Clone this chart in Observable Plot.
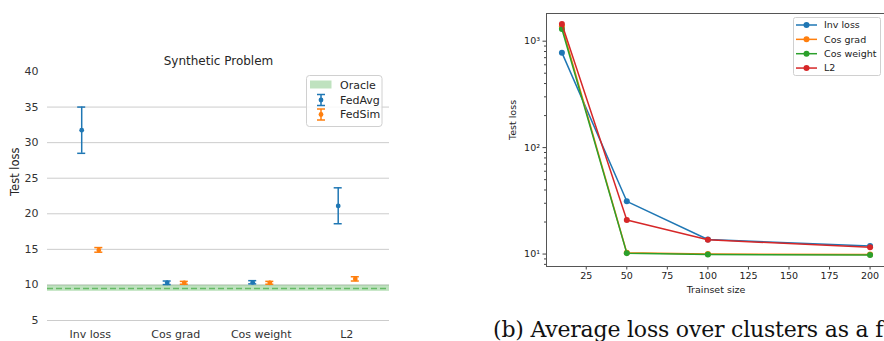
<!DOCTYPE html>
<html><head><meta charset="utf-8">
<script src="https://cdn.jsdelivr.net/npm/d3@7"></script>
<script src="https://cdn.jsdelivr.net/npm/@observablehq/plot@0.6"></script>
<style>
html,body{margin:0;padding:0;background:#fff;}
body{width:884px;height:341px;overflow:hidden;position:relative;font-family:"DejaVu Sans",sans-serif;}
#left{position:absolute;left:0;top:0;width:400px;}
#right{position:absolute;left:470px;top:0;width:420px;}
#left svg,#right svg{max-width:none !important;}
#overlay{position:absolute;left:0;top:0;pointer-events:none;}
</style></head>
<body>
<div id="left"></div>
<div id="right"></div>
<svg id="overlay" width="884" height="341"></svg>
<script>
// ---------- Left chart data ----------
const categories = ["Inv loss", "Cos grad", "Cos weight", "L2"];
const fedAvgMean = [31.75, 10.3, 10.35, 21.1];
const fedAvgLow  = [28.5, 10.05, 10.15, 18.6];
const fedAvgHigh = [35.0, 10.55, 10.6, 23.65];
const fedSimMean = [14.9, 10.3, 10.3, 10.85];
const fedSimLow  = [14.6, 10.1, 10.1, 10.55];
const fedSimHigh = [15.25, 10.5, 10.5, 11.15];
const oracleMean = 9.5, oracleLow = 9.1, oracleHigh = 9.95;
const leftYTicks = [5, 10, 15, 20, 25, 30, 35, 40];
const leftGrid = [5, 10, 15, 20, 25, 30, 35];

// ---------- Right chart data ----------
const trainsetSizes = [10, 50, 100, 200];
const seriesNames = ["Inv loss", "Cos grad", "Cos weight", "L2"];
const invLoss   = [780, 31.3, 13.7, 11.9];
const cosGrad   = [1380, 10.3, 10.0, 9.9];
const cosWeight = [1300, 10.2, 9.9, 9.8];
const l2        = [1450, 20.9, 13.6, 11.6];
const rightXTicks = [25, 50, 75, 100, 125, 150, 175, 200];
const rightYTicks = [10, 100, 1000];
const rightMinor = [8, 9, 20, 30, 40, 50, 60, 70, 80, 90, 200, 300, 400, 500, 600, 700, 800, 900];

const blue = "#1f77b4", orange = "#ff7f0e", green = "#2ca02c", red = "#d62728";

// ---------- Left chart ----------
const off = 0.1, capHalf = 0.047;
const xDomainL = [-0.5, 3.5];
const fedAvg = categories.map((c, i) => ({i, x: i - off, mean: fedAvgMean[i], lo: fedAvgLow[i], hi: fedAvgHigh[i]}));
const fedSim = categories.map((c, i) => ({i, x: i + off, mean: fedSimMean[i], lo: fedSimLow[i], hi: fedSimHigh[i]}));
function errorbars(data, color) {
  return [
    Plot.ruleX(data, {x: "x", y1: "lo", y2: "hi", stroke: color, strokeWidth: 1.5}),
    Plot.ruleY(data, {y: "hi", x1: d => d.x - capHalf, x2: d => d.x + capHalf, stroke: color, strokeWidth: 1.5}),
    Plot.ruleY(data, {y: "lo", x1: d => d.x - capHalf, x2: d => d.x + capHalf, stroke: color, strokeWidth: 1.5}),
    Plot.dot(data, {x: "x", y: "mean", r: 2.4, fill: color, stroke: null})
  ];
}
const left = Plot.plot({
  width: 400, height: 360,
  marginLeft: 47, marginRight: 11, marginTop: 71, marginBottom: 40,
  style: {fontFamily: "DejaVu Sans", fontSize: "11px", color: "#333", background: "transparent"},
  x: {domain: xDomainL, ticks: categories.map((c, i) => i), tickFormat: i => categories[i], tickSize: 0, tickPadding: 10, label: null},
  y: {domain: [5, 40], ticks: leftYTicks, tickSize: 0, tickPadding: 9, label: null},
  marks: [
    Plot.ruleY(leftGrid, {stroke: "#cccccc", strokeWidth: 1}),
    Plot.rect([{lo: oracleLow, hi: oracleHigh}], {x1: () => xDomainL[0], x2: () => xDomainL[1], y1: "lo", y2: "hi", fill: green, fillOpacity: 0.3}),
    Plot.ruleY([oracleMean], {stroke: green, strokeOpacity: 0.6, strokeWidth: 1.5, strokeDasharray: "6,3"}),
    ...errorbars(fedAvg, blue),
    ...errorbars(fedSim, orange),
    Plot.text(["Synthetic Problem"], {frameAnchor: "top", dy: -10, lineAnchor: "middle", fontSize: 12, fill: "#262626"}),
    Plot.text(["Test loss"], {frameAnchor: "left", rotate: -90, dx: -32, lineAnchor: "middle", fontSize: 11.5, fill: "#262626"})
  ]
});
document.getElementById("left").append(left);

// ---------- Right chart ----------
const seriesValues = [invLoss, cosGrad, cosWeight, l2];
const colors = [blue, orange, green, red];
const sup = {1: "\u00b9", 2: "\u00b2", 3: "\u00b3"};
const rows = seriesNames.map((name, s) => trainsetSizes.map((t, j) => ({name, size: t, loss: seriesValues[s][j]})));
const right = Plot.plot({
  width: 420, height: 300,
  marginLeft: 76, marginRight: 5, marginTop: 13, marginBottom: 34,
  style: {fontFamily: "DejaVu Sans", fontSize: "9.5px", color: "#222", background: "transparent"},
  x: {domain: [0.5, 209.5], label: null},
  y: {type: "log", domain: [7.64, 1820], label: null},
  marks: [
    Plot.axisX({ticks: rightXTicks, tickSize: 3.5, tickPadding: 2, label: null, stroke: "#444"}),
    Plot.axisY({ticks: rightYTicks, tickSize: 3.5, tickPadding: 3, tickFormat: d => "10" + sup[Math.round(Math.log10(d))], label: null, stroke: "#444"}),
    Plot.axisY({ticks: rightMinor, tickSize: 2, tickFormat: () => "", label: null, stroke: "#444"}),
    Plot.frame({stroke: "#555", strokeWidth: 1}),
    ...rows.flatMap((r, s) => [
      Plot.line(r, {x: "size", y: "loss", stroke: colors[s], strokeWidth: 1.5}),
      Plot.dot(r, {x: "size", y: "loss", fill: colors[s], stroke: null, r: 3})
    ]),
    Plot.text(["Trainset size"], {frameAnchor: "bottom", dy: 23, lineAnchor: "middle", fontSize: 9.5, fill: "#222"}),
    Plot.text(["Test loss"], {frameAnchor: "left", rotate: -90, dx: -34, lineAnchor: "middle", fontSize: 9.5, fill: "#222"})
  ]
});
document.getElementById("right").append(right);

// ---------- Legends & caption ----------
const ov = d3.select("#overlay");
// left legend
ov.append("rect").attr("x", 306.5).attr("y", 75.5).attr("width", 75.5).attr("height", 51).attr("rx", 3)
  .attr("fill", "rgba(255,255,255,0.85)").attr("stroke", "#d0d0d0");
ov.append("rect").attr("x", 310).attr("y", 80.5).attr("width", 21.5).attr("height", 8).attr("fill", green).attr("fill-opacity", 0.3);
[[blue, 100], [orange, 114.5]].forEach(([c, y]) => {
  const cx = 321;
  ov.append("line").attr("x1", cx).attr("x2", cx).attr("y1", y - 5.5).attr("y2", y + 5.5).attr("stroke", c).attr("stroke-width", 1.5);
  ov.append("line").attr("x1", cx - 4).attr("x2", cx + 4).attr("y1", y - 5.5).attr("y2", y - 5.5).attr("stroke", c).attr("stroke-width", 1.5);
  ov.append("line").attr("x1", cx - 4).attr("x2", cx + 4).attr("y1", y + 5.5).attr("y2", y + 5.5).attr("stroke", c).attr("stroke-width", 1.5);
  ov.append("circle").attr("cx", cx).attr("cy", y).attr("r", 2.4).attr("fill", c);
});
[["Oracle", 84.7], ["FedAvg", 100], ["FedSim", 114.5]].forEach(([t, y]) => {
  ov.append("text").attr("x", 340).attr("y", y).attr("dy", "0.35em").attr("font-size", 11).attr("fill", "#262626")
    .attr("font-family", "DejaVu Sans").text(t);
});
// right legend
ov.append("rect").attr("x", 793.5).attr("y", 17.5).attr("width", 87).attr("height", 58).attr("rx", 2)
  .attr("fill", "rgba(255,255,255,0.85)").attr("stroke", "#d0d0d0");
seriesNames.forEach((t, s) => {
  const y = 25 + s * 14.35;
  ov.append("line").attr("x1", 796).attr("x2", 817).attr("y1", y).attr("y2", y).attr("stroke", colors[s]).attr("stroke-width", 1.5);
  ov.append("circle").attr("cx", 806.5).attr("cy", y).attr("r", 3).attr("fill", colors[s]);
  ov.append("text").attr("x", 824).attr("y", y).attr("dy", "0.35em").attr("font-size", 9.5).attr("fill", "#222")
    .attr("font-family", "DejaVu Sans").text(t);
});
// caption
ov.append("text").attr("x", 493).attr("y", 337).attr("font-size", 22).attr("letter-spacing", "-0.2px").attr("fill", "#111")
  .attr("font-family", "DejaVu Serif").text("(b) Average loss over clusters as a function of trainset size");
</script>
</body></html>
